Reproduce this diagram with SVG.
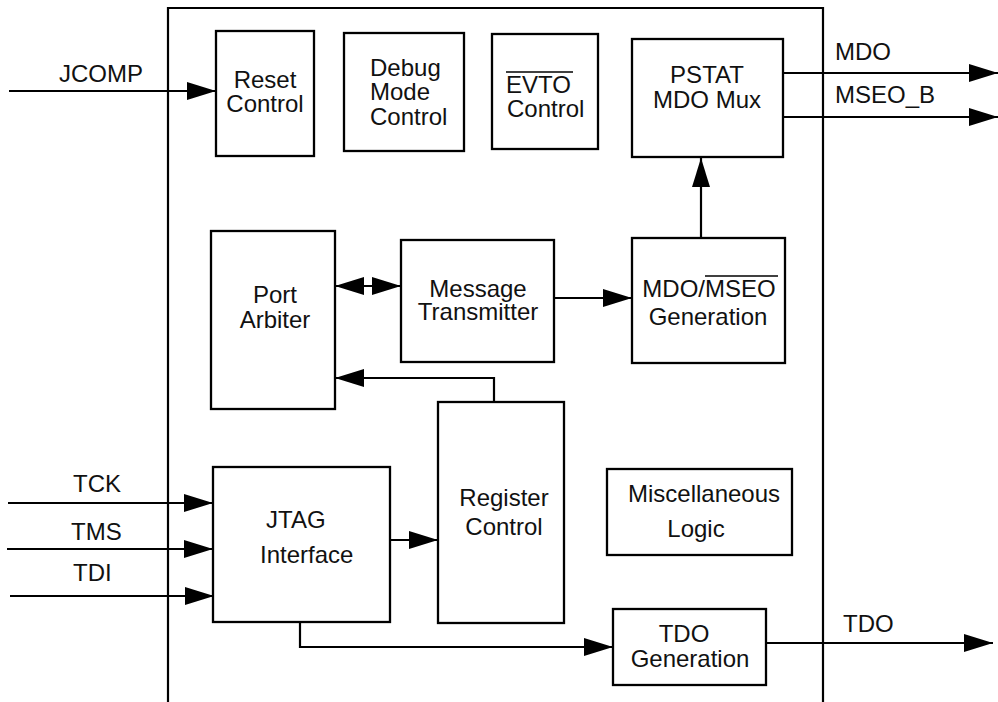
<svg xmlns="http://www.w3.org/2000/svg" width="998" height="702" viewBox="0 0 998 702">
<style>
.box{fill:#fff;stroke:#000;stroke-width:2.3}
.ln{fill:none;stroke:#000;stroke-width:2.2}
.ol{stroke:#000;stroke-width:1.6}
text{font-family:"Liberation Sans",Arial,sans-serif;font-size:24px;fill:#111}
.c{text-anchor:middle}
</style>
<defs>
<marker id="arr" viewBox="0 0 29 18" refX="29" refY="9" markerWidth="29" markerHeight="18" markerUnits="userSpaceOnUse" orient="auto-start-reverse">
<path d="M0,0 L29,9 L0,18 z" fill="#000"/>
</marker>
</defs>
<rect width="998" height="702" fill="#fff"/>
<g id="boundary">
<path class="ln" d="M168,702 V8 H823 V702"/>
</g>
<g id="connectors">
<line class="ln" x1="9" y1="91" x2="216" y2="91" marker-end="url(#arr)"/>
<line class="ln" x1="783" y1="73" x2="998" y2="73" marker-end="url(#arr)"/>
<line class="ln" x1="783" y1="117" x2="998" y2="117" marker-end="url(#arr)"/>
<line class="ln" x1="335" y1="286" x2="401" y2="286" marker-start="url(#arr)" marker-end="url(#arr)"/>
<line class="ln" x1="554" y1="298" x2="632" y2="298" marker-end="url(#arr)"/>
<line class="ln" x1="701" y1="238" x2="701" y2="158" marker-end="url(#arr)"/>
<path class="ln" d="M494,402 V378 H335" marker-end="url(#arr)"/>
<line class="ln" x1="8" y1="503" x2="213" y2="503" marker-end="url(#arr)"/>
<line class="ln" x1="7" y1="549" x2="213" y2="549" marker-end="url(#arr)"/>
<line class="ln" x1="10" y1="596" x2="214" y2="596" marker-end="url(#arr)"/>
<line class="ln" x1="390" y1="540" x2="438" y2="540" marker-end="url(#arr)"/>
<path class="ln" d="M300,622 V647 H613" marker-end="url(#arr)"/>
<line class="ln" x1="766" y1="643" x2="993" y2="643" marker-end="url(#arr)"/>
</g>
<g id="labels">
<text x="59" y="82">JCOMP</text>
<text x="835" y="60">MDO</text>
<text x="835" y="103">MSEO_B</text>
<text x="73" y="492">TCK</text>
<text x="71" y="540">TMS</text>
<text x="73" y="581">TDI</text>
<text x="843" y="632">TDO</text>
</g>
<g id="reset">
<rect class="box" x="216" y="31" width="98" height="125"/>
<text class="c" x="265" y="88">Reset</text>
<text class="c" x="265" y="112">Control</text>
</g>
<g id="debug">
<rect class="box" x="344" y="33" width="120" height="118"/>
<text x="370" y="76">Debug</text>
<text x="370" y="100">Mode</text>
<text x="370" y="125">Control</text>
</g>
<g id="evto">
<rect class="box" x="492" y="34" width="106" height="115"/>
<text x="506" y="93">EVTO</text>
<line class="ol" x1="506" y1="72" x2="573" y2="72"/>
<text x="507" y="117">Control</text>
</g>
<g id="pstat">
<rect class="box" x="632" y="39" width="151" height="118"/>
<text class="c" x="707" y="83">PSTAT</text>
<text class="c" x="707" y="108">MDO Mux</text>
</g>
<g id="arbiter">
<rect class="box" x="211" y="231" width="124" height="178"/>
<text class="c" x="275" y="303">Port</text>
<text class="c" x="275" y="328">Arbiter</text>
</g>
<g id="transmitter">
<rect class="box" x="401" y="240" width="153" height="122"/>
<text class="c" x="478" y="297">Message</text>
<text class="c" x="478" y="320">Transmitter</text>
</g>
<g id="mdogen">
<rect class="box" x="632" y="238" width="153" height="125"/>
<text class="c" x="709" y="297">MDO/MSEO</text>
<line class="ol" x1="705" y1="276" x2="778" y2="276"/>
<text class="c" x="708" y="325">Generation</text>
</g>
<g id="register">
<rect class="box" x="438" y="402" width="126" height="221"/>
<text class="c" x="504" y="506">Register</text>
<text class="c" x="504" y="535">Control</text>
</g>
<g id="jtag">
<rect class="box" x="213" y="467" width="177" height="155"/>
<text x="266" y="528">JTAG</text>
<text x="260" y="563">Interface</text>
</g>
<g id="misc">
<rect class="box" x="607" y="469" width="185" height="86"/>
<text class="c" x="704" y="502">Miscellaneous</text>
<text class="c" x="696" y="537">Logic</text>
</g>
<g id="tdogen">
<rect class="box" x="613" y="609" width="153" height="76"/>
<text class="c" x="684" y="642">TDO</text>
<text class="c" x="690" y="667">Generation</text>
</g>
</svg>
